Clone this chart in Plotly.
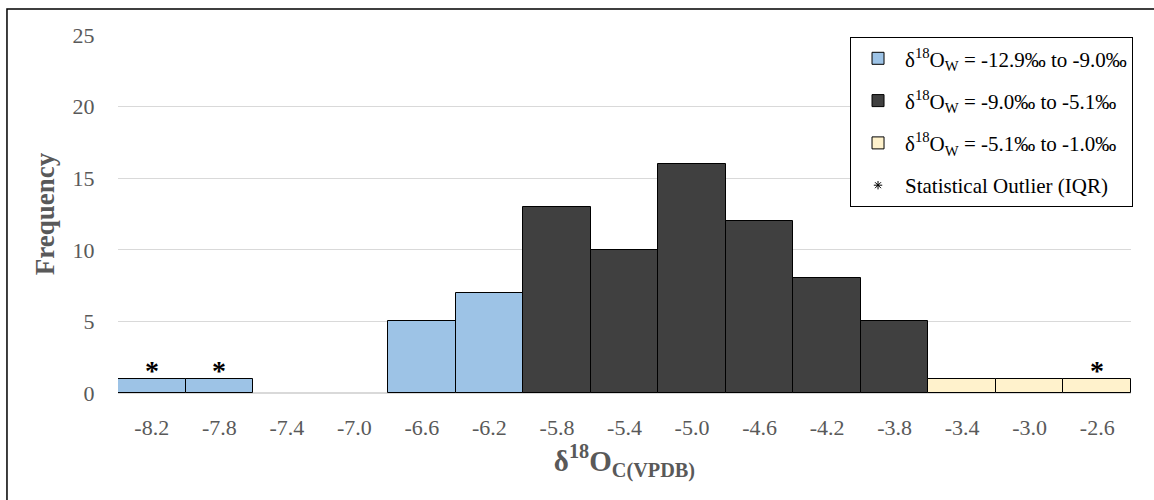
import plotly.graph_objects as go

# Histogram of carbonate oxygen isotope values (bin centres, width 0.4 per mil)
bin_centers = [-8.2, -7.8, -7.4, -7.0, -6.6, -6.2, -5.8, -5.4, -5.0, -4.6, -4.2, -3.8, -3.4, -3.0, -2.6]
counts = [1, 1, 0, 0, 5, 7, 13, 10, 16, 12, 8, 5, 1, 1, 1]
# Water-composition class of each bin (0 = light, 1 = mid, 2 = heavy)
water_class = [0, 0, 0, 0, 0, 0, 1, 1, 1, 1, 1, 1, 2, 2, 2]
# Bins flagged as IQR outliers
outlier_bins = [-8.2, -7.8, -2.6]

tick_labels = ["-8.2", "-7.8", "-7.4", "-7.0", "-6.6", "-6.2", "-5.8", "-5.4",
               "-5.0", "-4.6", "-4.2", "-3.8", "-3.4", "-3.0", "-2.6"]

class_names = [
    "δ<sup>18</sup>O<sub>W</sub> = -12.9‰ to -9.0‰",
    "δ<sup>18</sup>O<sub>W</sub> = -9.0‰ to -5.1‰",
    "δ<sup>18</sup>O<sub>W</sub> = -5.1‰ to -1.0‰",
]
class_colors = ["#9DC3E6", "#404040", "#FFF2CC"]
BIN_WIDTH = 0.4

SERIF = "Liberation Serif, Times New Roman, serif"
GRAY = "#595959"

fig = go.Figure()

for k, (name, color) in enumerate(zip(class_names, class_colors)):
    xs = [c for c, n, g in zip(bin_centers, counts, water_class) if g == k and n > 0]
    ys = [n for c, n, g in zip(bin_centers, counts, water_class) if g == k and n > 0]
    fig.add_trace(go.Bar(
        x=xs, y=ys, width=[BIN_WIDTH] * len(xs), name=name,
        marker=dict(color=color, line=dict(color="#000000", width=1)),
        legendgroup=f"g{k}", hoverinfo="x+y",
    ))

# Legend key for the outlier marker
fig.add_trace(go.Scatter(
    x=[None], y=[None], mode="markers", name="Statistical Outlier (IQR)",
    marker=dict(symbol="asterisk-open", size=7, color="#000000", line=dict(color="#000000", width=1)),
    legendgroup="g3",
))

# Asterisks above the outlier bins
annotations = []
for b in outlier_bins:
    annotations.append(dict(
        x=b, y=counts[bin_centers.index(b)], xref="x", yref="y",
        text="<b>*</b>", showarrow=False, yanchor="middle", yshift=8,
        font=dict(family=SERIF, size=28, color="#000000"),
    ))

fig.update_layout(
    width=1154, height=500,
    margin=dict(l=118, r=23, t=35, b=107),
    paper_bgcolor="white", plot_bgcolor="white",
    barmode="overlay", bargap=0,
    font=dict(family=SERIF, size=22, color=GRAY),
    showlegend=True,
    legend=dict(
        x=1.002, xanchor="right", y=0.994, yanchor="top",
        bordercolor="#000000", borderwidth=1, bgcolor="white",
        font=dict(family=SERIF, size=21, color="#000000"),
        tracegroupgap=12, itemwidth=44,
    ),
    annotations=annotations,
    xaxis=dict(
        range=[bin_centers[0] - BIN_WIDTH / 2, bin_centers[-1] + BIN_WIDTH / 2],
        tickvals=bin_centers, ticktext=tick_labels,
        showgrid=False, zeroline=False, showline=False,
        ticks="outside", ticklen=15, tickcolor="rgba(0,0,0,0)",
        tickfont=dict(family=SERIF, size=22, color=GRAY),
        title=dict(text="<b>δ<sup>18</sup>O<sub>C(VPDB)</sub></b>",
                   font=dict(family=SERIF, size=29, color=GRAY), standoff=6),
    ),
    yaxis=dict(
        range=[0, 25], dtick=5, tick0=0,
        showgrid=True, gridcolor="#D9D9D9", gridwidth=1,
        zeroline=True, zerolinecolor="#D9D9D9", zerolinewidth=1.5,
        showline=False,
        ticks="outside", ticklen=18, tickcolor="rgba(0,0,0,0)",
        tickfont=dict(family=SERIF, size=22, color=GRAY),
        title=dict(text="<b>Frequency</b>",
                   font=dict(family=SERIF, size=27, color=GRAY), standoff=10),
    ),
    shapes=[dict(
        type="rect", xref="paper", yref="paper",
        x0=-0.1096, x1=1.03, y0=-0.35, y1=1.0726,
        line=dict(color="#000000", width=1.5), fillcolor="rgba(0,0,0,0)", layer="below",
    )],
)

fig.write_html("out.html")
